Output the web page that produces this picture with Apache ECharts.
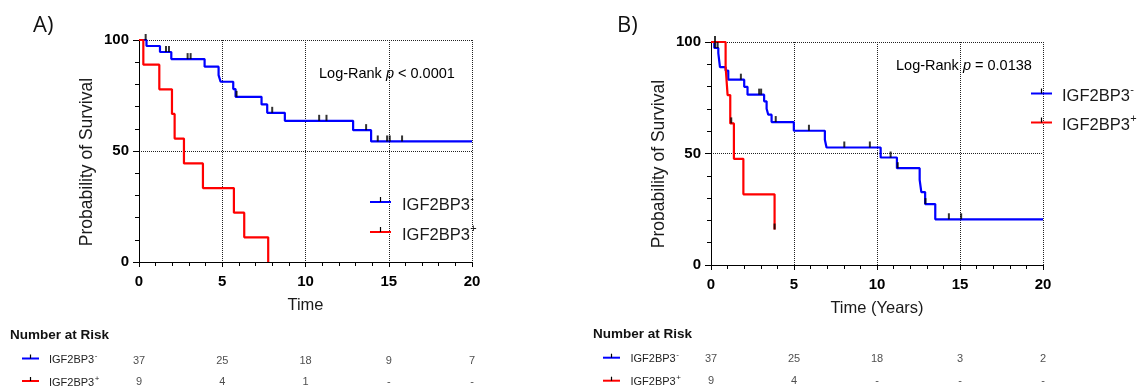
<!DOCTYPE html>
<html><head><meta charset="utf-8">
<script src="https://cdn.jsdelivr.net/npm/echarts@6/dist/echarts.min.js"></script>
<style>html,body{margin:0;padding:0;background:#fff}#c{width:1145px;height:392px}</style>
</head><body><div id="c"></div>
<script>
// ---------- data ----------
const timeTicks = [0, 5, 10, 15, 20];
const groupNeg = 'IGF2BP3';
const panelTitles = ['A)', 'B)'];
const xTitles = ['Time', 'Time (Years)'];
const yTitle = 'Probability of Survival';
const pTexts = ['< 0.0001', '= 0.0138'];

// Panel A
const aNegSteps = [[0,100],[0.45,97.3],[1.26,94.6],[1.94,91.4],[3.94,88.0],[4.78,84.2],[4.9,81.2],[5.66,77.9],[5.8,74.4],[7.36,71.0],[7.7,67.2],[8.76,63.6],[12.86,59.4],[13.94,54.3],[20,54.3]];
const aNegCensor = [[0.4,100],[1.62,94.6],[1.8,94.6],[2.92,91.4],[3.1,91.4],[5.86,74.4],[8.0,67.2],[10.82,63.6],[11.26,63.6],[13.64,59.4],[14.34,54.3],[14.9,54.3],[15.06,54.3],[15.8,54.3]];
const aPosSteps = [[0,100],[0.26,88.9],[1.22,77.8],[1.98,66.7],[2.14,55.6],[2.7,44.4],[3.84,33.3],[5.7,22.2],[6.32,11.1],[7.76,0]];
const aPosCensor = [];
const aRiskNeg = ['37','25','18','9','7'];
const aRiskPos = ['9','4','1','-','-'];

// Panel B
const bNegSteps = [[0,100],[0.2,97.3],[0.44,95.0],[0.54,88.7],[0.88,87.2],[1.04,83.1],[2.0,79.9],[2.2,76.4],[3.2,73.4],[3.35,70.1],[3.45,67.4],[3.65,64.1],[4.99,60.2],[6.86,56.2],[6.96,52.7],[10.22,48.2],[11.2,43.4],[12.57,38.2],[12.67,32.7],[12.9,27.3],[13.51,20.5],[20,20.5]];
const bNegCensor = [[0.24,100],[0.25,97.3],[0.4,97.3],[1.8,83.1],[2.9,76.4],[3.02,76.4],[3.9,64.1],[5.9,60.2],[8.03,52.7],[9.57,52.7],[10.82,48.2],[11.25,43.4],[12.92,27.3],[14.33,20.5],[15.07,20.5]];
const bPosSteps = [[0,100],[0.88,88.9],[1.0,76.2],[1.16,63.5],[1.38,47.6],[1.95,31.7],[3.83,15.9]];
const bPosCensor = [[1.22,63.5],[3.83,15.9]];
const bRiskNeg = ['37','25','18','3','2'];
const bRiskPos = ['9','4','-','-','-'];

// ---------- styles ----------
const FONT = '"Liberation Sans", Arial, sans-serif';
const BLUE = '#0000ff', RED = '#ff0000';
const chart = echarts.init(document.getElementById('c'), null, {renderer: 'canvas'});
const measureCtx = document.createElement('canvas').getContext('2d');
function textWidth(txt, font) { measureCtx.font = font; return measureCtx.measureText(txt).width; }

const grids = [
  {left: 139, top: 40, width: 333, height: 222},
  {left: 711, top: 42, width: 332, height: 223},
  {left: 139, top: 351, width: 333, height: 46},
  {left: 711, top: 348, width: 332, height: 44}
];

function kmX(gi, name) {
  return {
    gridIndex: gi, type: 'value', min: 0, max: 20, interval: 5,
    axisLine: {show: true, onZero: false, lineStyle: {color: '#000', width: 1}},
    axisTick: {show: true, length: 5, lineStyle: {color: '#000'}},
    minorTick: {show: true, splitNumber: 5, length: 4, lineStyle: {color: '#000'}},
    splitLine: {show: true, lineStyle: {color: '#222', type: 'dotted', width: 1}},
    axisLabel: {fontSize: 15, fontWeight: 'bold', color: '#000', margin: 12, fontFamily: FONT},
    name: name, nameLocation: 'middle', nameGap: 35,
    nameTextStyle: {fontSize: 16.5, color: '#1a1a1a', fontFamily: FONT}
  };
}
function kmY(gi) {
  return {
    gridIndex: gi, type: 'value', min: 0, max: 100, interval: 50,
    axisLine: {show: true, onZero: false, lineStyle: {color: '#000', width: 1}},
    axisTick: {show: true, length: 6, lineStyle: {color: '#000'}},
    minorTick: {show: true, splitNumber: 5, length: 4, lineStyle: {color: '#000'}},
    splitLine: {show: true, lineStyle: {color: '#222', type: 'dotted', width: 1}},
    axisLabel: {fontSize: 15, fontWeight: 'bold', color: '#000', margin: 10, fontFamily: FONT}
  };
}
function riskX(gi) { return {gridIndex: gi, type: 'value', min: 0, max: 20, show: false}; }
function riskY(gi) { return {gridIndex: gi, type: 'category', data: ['neg', 'pos'], inverse: true, show: false}; }

function kmLine(data, color, idx) {
  return {type: 'line', xAxisIndex: idx, yAxisIndex: idx, data: data, step: 'end',
    symbol: 'none', clip: false, silent: true,
    lineStyle: {color: color, width: 2.2}, itemStyle: {color: color}, z: 3};
}
function censor(data, idx) {
  return {type: 'scatter', xAxisIndex: idx, yAxisIndex: idx, data: data, symbol: 'rect',
    symbolSize: [2, 6], symbolOffset: [0, -3], itemStyle: {color: '#000'}, z: 4, silent: true};
}
function riskRow(vals, row, idx) {
  return {type: 'scatter', xAxisIndex: idx, yAxisIndex: idx, symbolSize: 0, silent: true,
    data: timeTicks.map(t => [t, row]),
    label: {show: true, position: 'inside', fontSize: 11, color: '#222', fontFamily: FONT,
      formatter: p => vals[p.dataIndex]}};
}

// label with a superscript sign, drawn as two texts
function supLabel(x, y, size, supSize, sign, color) {
  const font = size + 'px ' + FONT;
  const w = textWidth(groupNeg, font);
  return [
    {type: 'text', x: x, y: y, z: 10, style: {text: groupNeg, font: font, fill: color, align: 'left', verticalAlign: 'middle'}},
    {type: 'text', x: x + w + 0.5, y: y - size * 0.36, z: 10, style: {text: sign, font: supSize + 'px ' + FONT, fill: color, align: 'left', verticalAlign: 'middle'}}
  ];
}
function legendItem(x1, x2, y, color, tx, ty, sign, size, supSize, tickH) {
  const mid = (x1 + x2) / 2;
  return [
    {type: 'line', shape: {x1: x1, y1: y, x2: x2, y2: y}, style: {stroke: color, lineWidth: 2}, z: 10},
    {type: 'line', shape: {x1: mid, y1: y - tickH, x2: mid, y2: y}, style: {stroke: '#000', lineWidth: 1.2}, z: 11}
  ].concat(supLabel(tx, ty, size, supSize, sign, size > 12 ? '#1a1a1a' : '#222'));
}
function pText(x, y, txt) {
  return {type: 'text', x: x, y: y, z: 10, style: {
    text: '{n|Log-Rank }{i|p}{n| ' + txt + '}', verticalAlign: 'middle', align: 'left',
    rich: {n: {fontSize: 14.5, fontFamily: FONT, color: '#1a1a1a'},
           i: {fontSize: 14.5, fontFamily: FONT, color: '#1a1a1a', fontStyle: 'italic'}}}};
}

const graphics = [].concat(
  [{type: 'text', x: 33, y: 26, style: {text: panelTitles[0], font: '22px "Open Sans", sans-serif', fill: '#111', verticalAlign: 'middle'}},
   {type: 'text', x: 617, y: 26, style: {text: panelTitles[1], font: '22px "Open Sans", sans-serif', fill: '#111', verticalAlign: 'middle'}},
   {type: 'text', x: 87, y: 162, rotation: Math.PI / 2, style: {text: yTitle, font: '17.5px ' + FONT, fill: '#1a1a1a', align: 'center', verticalAlign: 'middle'}},
   {type: 'text', x: 659, y: 164, rotation: Math.PI / 2, style: {text: yTitle, font: '17.5px ' + FONT, fill: '#1a1a1a', align: 'center', verticalAlign: 'middle'}},
   pText(319, 74, pTexts[0]), pText(896, 66, pTexts[1]),
   {type: 'text', x: 10, y: 335, style: {text: 'Number at Risk', font: 'bold 13.5px ' + FONT, fill: '#111', verticalAlign: 'middle'}},
   {type: 'text', x: 593, y: 334, style: {text: 'Number at Risk', font: 'bold 13.5px ' + FONT, fill: '#111', verticalAlign: 'middle'}}
  ],
  legendItem(370, 391, 202, BLUE, 402, 205, '-', 16.5, 11, 5),
  legendItem(370, 391, 232, RED, 402, 235, '+', 16.5, 11, 5),
  legendItem(1031, 1052, 93.5, BLUE, 1062, 96, '-', 16.5, 11, 5),
  legendItem(1031, 1052, 122.5, RED, 1062, 125, '+', 16.5, 11, 5),
  legendItem(22, 39, 358.5, BLUE, 49, 360, '-', 11, 8, 4),
  legendItem(22, 39, 381, RED, 49, 383, '+', 11, 8, 4),
  legendItem(603, 620, 357.7, BLUE, 630.5, 359, '-', 11, 8, 4),
  legendItem(603, 620, 380.7, RED, 630.5, 382, '+', 11, 8, 4)
);

chart.setOption({
  animation: false,
  backgroundColor: '#fff',
  textStyle: {fontFamily: FONT},
  grid: grids,
  xAxis: [kmX(0, xTitles[0]), kmX(1, xTitles[1]), riskX(2), riskX(3)],
  yAxis: [kmY(0), kmY(1), riskY(2), riskY(3)],
  series: [
    kmLine(aNegSteps, BLUE, 0), kmLine(aPosSteps, RED, 0),
    censor(aNegCensor, 0), censor(aPosCensor, 0),
    kmLine(bNegSteps, BLUE, 1), kmLine(bPosSteps, RED, 1),
    censor(bNegCensor, 1), censor(bPosCensor, 1),
    riskRow(aRiskNeg, 0, 2), riskRow(aRiskPos, 1, 2),
    riskRow(bRiskNeg, 0, 3), riskRow(bRiskPos, 1, 3)
  ],
  graphic: graphics
});
</script></body></html>
